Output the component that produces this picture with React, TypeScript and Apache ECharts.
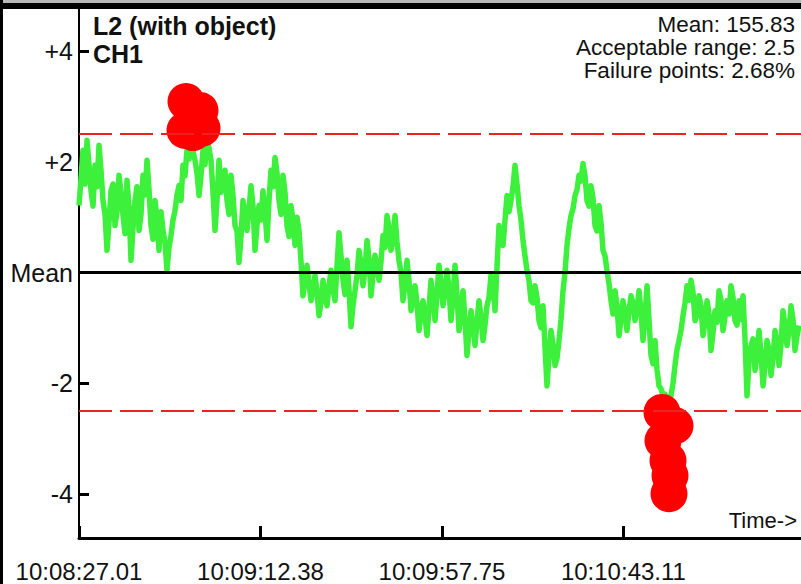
import React, { useEffect, useRef } from "react";
import * as echarts from "echarts";

// ---- data ----
const xTickSeconds = [0, 45.37, 90.74, 136.1];
const xTickLabels = ["10:08:27.01", "10:09:12.38", "10:09:57.75", "10:10:43.11"];
const yTickValues = [-4, -2, 0, 2, 4];
const yTickLabels = ["-4", "-2", "Mean", "+2", "+4"];

const MEAN_VALUE = 155.83;
const ACCEPTABLE_RANGE = 2.5;
const FAILURE_PERCENT = 2.68;

const SAMPLE_STEP = 0.5; // seconds between samples
const deviation = [
  1.21, 1.70, 2.21, 1.60, 2.39, 1.95, 1.48, 1.20, 1.94, 1.55,
  2.30, 1.85, 1.30, 1.05, 0.40, 0.90, 1.48, 1.60, 0.85, 1.10,
  1.76, 1.45, 1.03, 0.70, 1.67, 1.20, 0.22, 0.80, 1.30, 1.55,
  0.76, 1.05, 1.76, 1.40, 2.03, 1.50, 0.85, 0.60, 1.30, 1.00,
  0.40, 1.10, 0.76, 0.55, 0.04, 0.45, 0.67, 0.95, 1.12, 1.40,
  1.57, 1.30, 1.94, 1.75, 2.21, 2.05, 2.39, 2.20, 2.03, 1.80,
  1.39, 1.75, 2.21, 1.95, 2.39, 2.25, 2.03, 1.45, 0.76, 1.30,
  2.03, 1.45, 1.67, 1.85, 1.30, 1.05, 1.76, 1.40, 0.85, 0.75,
  0.18, 0.65, 1.30, 1.05, 0.76, 1.15, 1.57, 1.20, 0.40, 0.85,
  1.21, 0.95, 1.48, 1.10, 0.58, 1.30, 1.85, 1.55, 2.08, 1.80,
  1.30, 1.05, 1.76, 1.45, 0.85, 0.65, 1.21, 0.95, 0.49, 1.00,
  0.76, 0.20, -0.42, -0.15, 0.13, -0.20, -0.51, -0.30, -0.05, -0.35,
  -0.78, -0.55, -0.14, -0.40, -0.60, -0.25, 0.04, -0.30, -0.51, 0.10,
  0.72, 0.30, -0.14, -0.40, 0.22, -0.30, -0.98, -0.60, -0.33, -0.05,
  0.40, 0.15, -0.24, 0.05, 0.58, 0.25, -0.42, -0.05, 0.31, 0.10,
  -0.14, 0.20, 0.67, 0.45, 1.03, 0.80, 0.40, 0.60, 1.03, 0.55,
  0.22, 0.00, -0.51, -0.20, 0.22, -0.15, -0.69, -0.50, -0.24, -0.55,
  -1.05, -0.75, -0.51, -0.80, -1.14, -0.65, -0.14, -0.45, -0.87, -0.40,
  0.13, -0.20, -0.60, -0.35, 0.04, -0.30, -0.87, -0.45, 0.13, -0.40,
  -1.05, -0.75, -0.33, -0.85, -1.50, -1.05, -0.69, -0.95, -1.32, -0.90,
  -0.51, -0.80, -1.23, -0.95, -0.60, -0.45, -0.05, -0.25, -0.69, 0.10,
  0.85, 0.65, 0.49, 0.95, 1.39, 1.10, 1.30, 1.55, 1.94, 1.60,
  1.21, 0.95, 0.58, 0.30, 0.04, -0.15, -0.51, -0.55, -0.24, -0.45,
  -0.87, -1.00, -0.60, -1.35, -2.05, -1.50, -1.05, -1.30, -1.68, -1.55,
  -1.23, -0.85, -0.33, 0.00, 0.49, 0.80, 1.03, 1.15, 1.39, 1.50,
  1.76, 1.65, 1.97, 1.75, 1.30, 1.20, 1.57, 1.35, 0.85, 0.75,
  1.21, 0.90, 0.40, 0.30, 0.04, -0.20, -0.51, -0.75, -0.33, -0.60,
  -1.14, -0.85, -0.51, -0.75, -1.05, -0.70, -0.42, -0.55, -0.87, -0.65,
  -0.33, -0.70, -1.23, -0.80, -0.24, -0.85, -1.50, -1.65, -1.23, -1.75,
  -2.05, -2.10, -2.23, -2.20, -2.32, -2.25, -2.23, -2.00, -1.68, -1.40,
  -1.23, -1.05, -0.78, -0.55, -0.24, -0.50, -0.14, -0.35, -0.87, -0.75,
  -0.42, -0.60, -1.14, -0.90, -0.51, -0.75, -1.41, -1.10, -0.69, -0.90,
  -0.33, -0.50, -1.05, -0.80, -0.51, -0.75, -0.24, -0.45, -0.87, -0.95,
  -0.51, -0.85, -0.42, -1.20, -2.23, -1.60, -1.32, -1.20, -1.77, -1.50,
  -1.05, -1.45, -2.05, -1.70, -1.23, -1.40, -1.86, -1.55, -1.05, -1.25,
  -1.68, -1.30, -0.69, -0.95, -1.32, -1.05, -0.60, -0.85, -1.41, -1.15,
  -0.96,
];

const failureTimes = [26.75, 30.25, 26.5, 30.75, 28.5, 145.75, 149, 146, 147.25, 147.75, 147.5];
const failureValues = [3.09, 2.93, 2.57, 2.61, 2.53, -2.53, -2.77, -3.04, -3.4, -3.67, -4.0];

const FONT = "'Liberation Sans', Arial, Helvetica, sans-serif";

export default function App() {
  const ref = useRef<HTMLDivElement>(null);

  useEffect(() => {
    if (!ref.current) return;
    const chart = echarts.init(ref.current, undefined, { renderer: "svg" });

    const lineData = deviation.map((v, i) => [i * SAMPLE_STEP, v]);
    const failData = failureTimes.map((t, i) => [t, failureValues[i]]);

    chart.setOption({
      animation: false,
      backgroundColor: "#ffffff",
      grid: { left: 79, right: 0, top: 7, bottom: 46, containLabel: false },
      xAxis: {
        type: "value",
        min: 0,
        max: 180.5,
        splitLine: { show: false },
        axisLine: { show: true, onZero: false, lineStyle: { color: "#000", width: 3 } },
        axisTick: {
          show: true,
          inside: true,
          length: 12,
          customValues: xTickSeconds,
          lineStyle: { color: "#000", width: 3 },
        },
        axisLabel: {
          show: true,
          customValues: xTickSeconds,
          margin: 21,
          fontSize: 24,
          fontFamily: FONT,
          color: "#111",
          hideOverlap: false,
          formatter: (val: number) => {
            const i = xTickSeconds.findIndex((s) => Math.abs(s - val) < 0.01);
            return i >= 0 ? xTickLabels[i] : "";
          },
        },
      },
      yAxis: {
        type: "value",
        min: -4.8,
        max: 4.8,
        splitLine: { show: false },
        axisLine: { show: true, onZero: false, lineStyle: { color: "#000", width: 2 } },
        axisTick: {
          show: true,
          inside: true,
          length: 10,
          customValues: yTickValues,
          lineStyle: { color: "#000", width: 3 },
        },
        axisLabel: {
          show: true,
          customValues: yTickValues,
          margin: 6,
          fontSize: 25,
          fontFamily: FONT,
          color: "#111",
          hideOverlap: false,
          formatter: (val: number) => {
            const i = yTickValues.findIndex((s) => Math.abs(s - val) < 0.01);
            return i >= 0 ? yTickLabels[i] : "";
          },
        },
      },
      series: [
        {
          type: "line",
          data: [],
          z: 1,
          markLine: {
            silent: true,
            symbol: "none",
            label: { show: false },
            data: [
              { yAxis: 0, lineStyle: { color: "#000", width: 3, type: "solid" } },
              { yAxis: ACCEPTABLE_RANGE, lineStyle: { color: "#ee2222", width: 2, type: [33, 8] } },
              { yAxis: -ACCEPTABLE_RANGE, lineStyle: { color: "#ee2222", width: 2, type: [33, 8] } },
            ],
          },
        },
        {
          type: "line",
          data: lineData,
          z: 2,
          showSymbol: false,
          symbol: "none",
          lineStyle: { color: "#3cf03c", width: 5.5, join: "round" },
        },
        {
          type: "scatter",
          data: failData,
          z: 3,
          symbol: "circle",
          symbolSize: 37,
          itemStyle: { color: "#ff0000", opacity: 1 },
        },
      ],
      graphic: [
        { type: "rect", left: 0, top: 0, shape: { width: 801, height: 3 }, style: { fill: "#b8b8b8" }, z: 100 },
        { type: "rect", left: 0, top: 3, shape: { width: 801, height: 6 }, style: { fill: "#000" }, z: 100 },
        { type: "rect", left: 0, top: 0, shape: { width: 3, height: 584 }, style: { fill: "#000" }, z: 100 },
        {
          type: "text",
          x: 93,
          y: 26,
          z: 100,
          style: { text: "L2 (with object)", fontSize: 25, fontWeight: "bold", fontFamily: FONT, fill: "#111", align: "left", verticalAlign: "middle" },
        },
        {
          type: "text",
          x: 93,
          y: 54,
          z: 100,
          style: { text: "CH1", fontSize: 25, fontWeight: "bold", fontFamily: FONT, fill: "#111", align: "left", verticalAlign: "middle" },
        },
        {
          type: "text",
          x: 795,
          y: 24,
          z: 100,
          style: { text: `Mean: ${MEAN_VALUE.toFixed(2)}`, fontSize: 22.5, fontFamily: FONT, fill: "#111", align: "right", verticalAlign: "middle" },
        },
        {
          type: "text",
          x: 795,
          y: 47,
          z: 100,
          style: { text: `Acceptable range: ${ACCEPTABLE_RANGE}`, fontSize: 22.5, fontFamily: FONT, fill: "#111", align: "right", verticalAlign: "middle" },
        },
        {
          type: "text",
          x: 795,
          y: 70,
          z: 100,
          style: { text: `Failure points: ${FAILURE_PERCENT.toFixed(2)}%`, fontSize: 22.5, fontFamily: FONT, fill: "#111", align: "right", verticalAlign: "middle" },
        },
        {
          type: "text",
          x: 797,
          y: 520,
          z: 100,
          style: { text: "Time->", fontSize: 22, fontFamily: FONT, fill: "#111", align: "right", verticalAlign: "middle" },
        },
      ],
    });

    return () => {
      chart.dispose();
    };
  }, []);

  return (
    <div
      ref={ref}
      style={{ position: "absolute", left: 0, top: 0, width: 801, height: 584, background: "#fff" }}
    />
  );
}
